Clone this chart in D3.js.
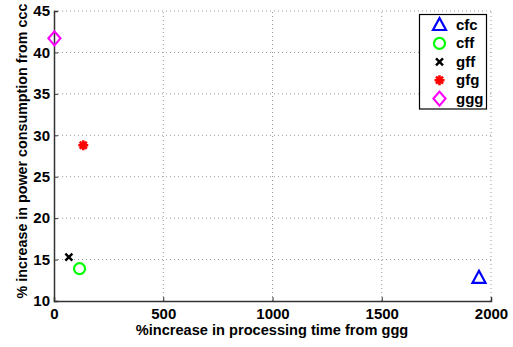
<!DOCTYPE html>
<html>
<head>
<meta charset="utf-8">
<script src="https://cdn.jsdelivr.net/npm/d3@7"></script>
<style>
  body { margin: 0; background: #fff; }
  svg text { font-family: "Liberation Sans", Arial, sans-serif; font-weight: 700; }
</style>
</head>
<body>
<div id="container"></div>
<script>
// series names, x = % increase in processing time, y = % increase in power
const names = ['cfc', 'cff', 'gff', 'gfg', 'ggg'];
const xValues = [1945, 117, 68, 134, 2];
const yValues = [12.8, 13.9, 15.3, 28.8, 41.7];
const colors = ['#0000ff', '#00ff00', '#000000', '#ff0000', '#ff00ff'];
const shapes = ['triangle', 'circle', 'cross', 'star', 'diamond'];
const xTicks = [0, 500, 1000, 1500, 2000];
const yTicks = [10, 15, 20, 25, 30, 35, 40, 45];

const width = 513, height = 347;
const margin = { top: 11, right: 22, bottom: 46, left: 54 };

const svg = d3.select('#container').append('svg')
  .attr('width', width)
  .attr('height', height);

const x = d3.scaleLinear().domain([0, 2000]).range([margin.left, width - margin.right]);
const y = d3.scaleLinear().domain([10, 45]).range([height - margin.bottom, margin.top]);

// dotted grid
const grid = svg.append('g');
grid.selectAll('.gx').data(xTicks.slice(1)).join('line')
  .attr('x1', d => x(d)).attr('x2', d => x(d))
  .attr('y1', y(10)).attr('y2', y(45))
  .attr('stroke', '#999').attr('stroke-width', 1).attr('stroke-dasharray', '1,3');
grid.selectAll('.gy').data(yTicks.slice(1)).join('line')
  .attr('x1', x(0)).attr('x2', x(2000))
  .attr('y1', d => y(d)).attr('y2', d => y(d))
  .attr('stroke', '#999').attr('stroke-width', 1).attr('stroke-dasharray', '1,3');

// axes
const xAxis = svg.append('g')
  .attr('transform', `translate(0,${y(10)})`)
  .call(d3.axisBottom(x).tickValues(xTicks).tickFormat(d3.format('d')).tickSize(-4).tickPadding(7));
const yAxis = svg.append('g')
  .attr('transform', `translate(${x(0)},0)`)
  .call(d3.axisLeft(y).tickValues(yTicks).tickFormat(d3.format('d')).tickSize(-4).tickPadding(4));
[xAxis, yAxis].forEach(a => {
  a.attr('font-family', null).attr('font-size', null);
  a.select('.domain').attr('stroke', '#333').attr('stroke-width', 1.5);
  a.selectAll('.tick line').attr('stroke', '#333');
  a.selectAll('.tick text').attr('font-size', 15).attr('fill', '#000');
});

// axis labels
svg.append('text')
  .attr('x', 272).attr('y', 335)
  .attr('text-anchor', 'middle').attr('font-size', 14.6)
  .text('%increase in processing time from ggg');
svg.append('text')
  .attr('transform', 'translate(27,151) rotate(-90)')
  .attr('text-anchor', 'middle').attr('font-size', 14.3)
  .text('% increase in power consumption from ccc');

function drawMarker(g, shape, color, cx, cy) {
  const s = g.append('g').attr('transform', `translate(${cx},${cy})`);
  if (shape === 'triangle') {
    s.append('path').attr('d', 'M0,-7 L6.5,5 L-6.5,5 Z')
      .attr('fill', 'none').attr('stroke', color).attr('stroke-width', 2.2);
  } else if (shape === 'circle') {
    s.append('circle').attr('r', 5.5)
      .attr('fill', 'none').attr('stroke', color).attr('stroke-width', 2.2);
  } else if (shape === 'cross') {
    s.append('path').attr('d', 'M-3.5,-3.5 L3.5,3.5 M-3.5,3.5 L3.5,-3.5')
      .attr('stroke', color).attr('stroke-width', 2.4);
  } else if (shape === 'star') {
    s.append('path').attr('d', 'M0,-5 L0,5 M-5,0 L5,0 M-3.5,-3.5 L3.5,3.5 M-3.5,3.5 L3.5,-3.5')
      .attr('stroke', color).attr('stroke-width', 2.6);
    s.append('circle').attr('r', 3).attr('fill', color);
  } else if (shape === 'diamond') {
    s.append('path').attr('d', 'M0,-7 L6,0 L0,7 L-6,0 Z')
      .attr('fill', 'none').attr('stroke', color).attr('stroke-width', 2.2);
  }
}

// points
const pts = svg.append('g');
names.forEach((n, i) => drawMarker(pts, shapes[i], colors[i], x(xValues[i]), y(yValues[i])));

// legend
const legend = svg.append('g');
legend.append('rect')
  .attr('x', 419.5).attr('y', 14.5).attr('width', 67).attr('height', 94.5)
  .attr('fill', '#fff').attr('stroke', '#000').attr('stroke-width', 1.2);
names.forEach((n, i) => {
  const ly = 25 + i * 18.4;
  drawMarker(legend, shapes[i], colors[i], 439.5, ly);
  legend.append('text').attr('x', 456).attr('y', ly + 5)
    .attr('font-size', 15).text(n);
});
</script>
</body>
</html>
